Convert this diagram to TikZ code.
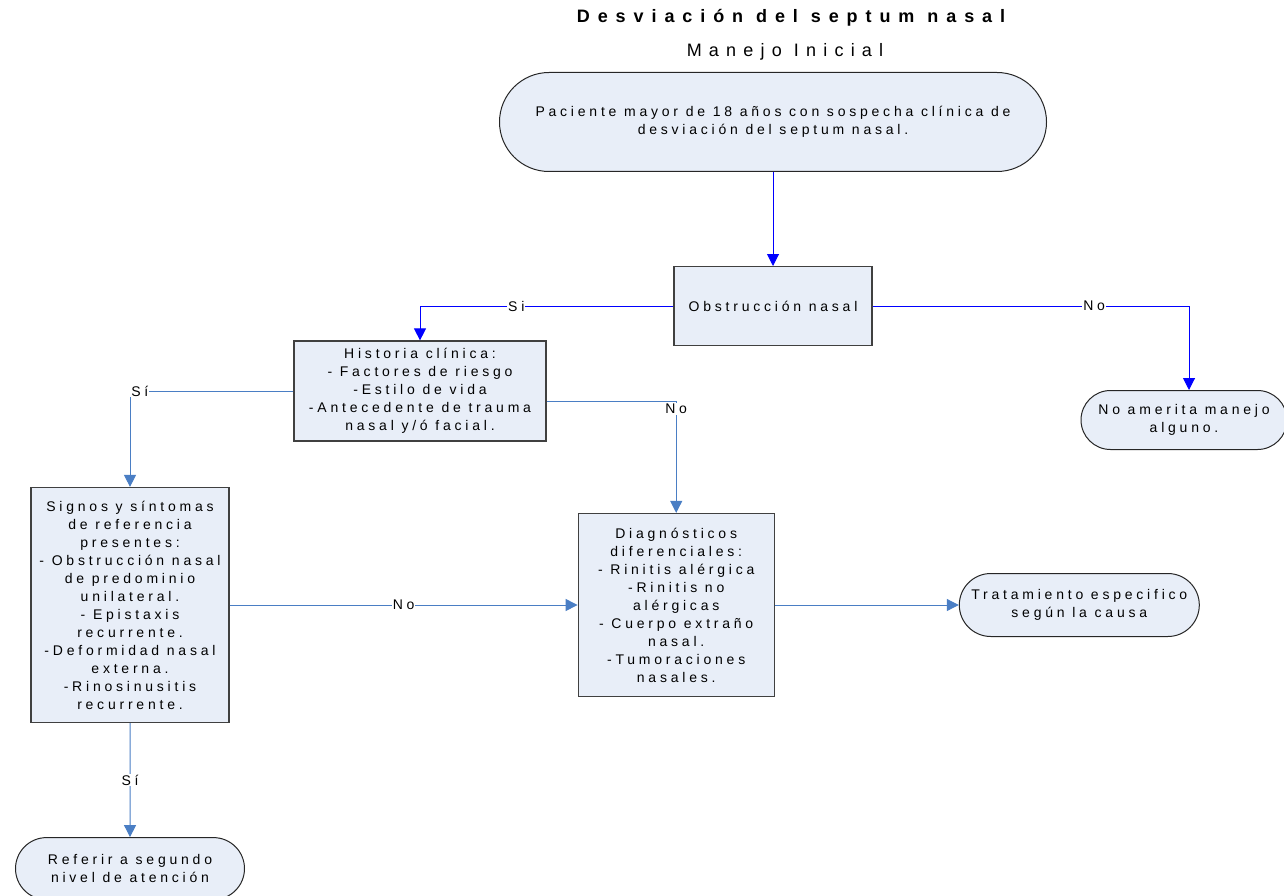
\documentclass[tikz,border=0pt]{standalone}
\usepackage{fontspec}
\setmainfont{Liberation Sans}[LetterSpace=27]
\usetikzlibrary{positioning,shapes.misc,arrows.meta}
\definecolor{boxfill}{HTML}{E8EEF8}
\definecolor{linkblue}{HTML}{4A7EC4}
\definecolor{pureblue}{HTML}{0000FF}
\newcommand{\boxfont}{\fontsize{14}{18}\selectfont}

\begin{document}
\begin{tikzpicture}[x=1pt,y=-1pt,
    every node/.style={font=\boxfont, align=center, inner sep=2pt},
    proc/.style={rectangle, draw=black!75, line width=1.2pt, fill=boxfill},
    term/.style={rounded rectangle, draw=black!85, line width=1pt, fill=boxfill},
    link/.style={draw=linkblue, line width=1pt, -{Triangle[width=12pt,length=12pt]}},
    firstlink/.style={link, draw=pureblue},
    lbl/.style={fill=white, inner sep=1pt}
  ]
  \useasboundingbox (0,0) rectangle (1284,896);

  % titles
  \node[font=\fontsize{18}{20}\bfseries\addfontfeatures{LetterSpace=44}] (title) at (791,18) {Desviación del septum nasal};
  \node[font=\fontsize{18}{20}\selectfont\addfontfeatures{LetterSpace=40}] (subtitle) at (785,52) {Manejo Inicial};

  % nodes
  \node[term, minimum width=551, minimum height=99] (start) at (773,122)
    {Paciente mayor de 18 años con sospecha clínica de\\desviación del septum nasal.};
  \node[proc, below=94pt of start, minimum width=198, minimum height=79] (obst) {Obstrucción nasal};
  \node[proc, minimum width=252, minimum height=100] (hist) at (420,391)
    {Historia clínica:\\- Factores de riesgo\\-Estilo de vida\\-Antecedente de trauma\\nasal y/ó facial.};
  \node[term, minimum width=210, minimum height=59] (noam) at (1184,420) {No amerita manejo\\alguno.};
  \node[proc, minimum width=198, minimum height=235] (sign) at (130,605)
    {Signos y síntomas\\de referencia\\presentes:\\- Obstrucción nasal\\de predominio\\unilateral.\\- Epistaxis\\recurrente.\\-Deformidad nasal\\externa.\\-Rinosinusitis\\recurrente.};
  \node[proc, right=348pt of sign, minimum width=196, minimum height=183] (diag)
    {Diagnósticos\\diferenciales:\\- Rinitis alérgica\\-Rinitis no\\alérgicas\\- Cuerpo extraño\\nasal.\\-Tumoraciones\\nasales.};
  \node[term, right=184pt of diag, minimum width=244, minimum height=63] (trat) {Tratamiento especifico\\según la causa};
  \node[term, below=114pt of sign, minimum width=233, minimum height=62] (refer) {Referir a segundo\\nivel de atención};

  % connectors
  \draw[firstlink] (start) -- (obst);
  \draw[firstlink] (obst.west) -| node[lbl, pos=0.31] {Si} (hist.north);
  \draw[firstlink] (obst.east) -| node[lbl, pos=0.35] {No} ([xshift=5pt]noam.north);
  \draw[link] (hist.west) -| node[lbl, pos=0.47] {Sí} (sign.north);
  \draw[link] ([yshift=-10pt]hist.east) -| node[lbl, pos=0.535] {No} (diag.north);
  \draw[link] (sign) -- node[lbl] {No} (diag);
  \draw[link] (diag) -- (trat);
  \draw[link] (sign) -- node[lbl] {Sí} (refer);
\end{tikzpicture}
\end{document}
